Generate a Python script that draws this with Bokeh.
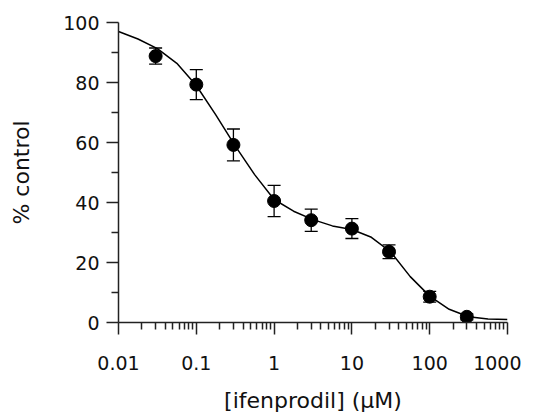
from bokeh.plotting import figure
from bokeh.models import FixedTicker, Whisker, TeeHead, ColumnDataSource
from bokeh.embed import file_html
from bokeh.resources import INLINE

# measured data points
conc = [0.03, 0.1, 0.3, 1, 3, 10, 30, 100, 300]
pct = [88.8, 79.3, 59.2, 40.5, 34.1, 31.3, 23.6, 8.6, 1.9]
err = [2.7, 5.0, 5.3, 5.2, 3.7, 3.3, 2.3, 1.8, 1.0]

# fitted curve
curve_x = [0.01, 0.0178, 0.0316, 0.0562, 0.1, 0.178, 0.316, 0.562, 1.0, 1.78,
           3.16, 5.62, 10.0, 17.8, 31.6, 56.2, 100.0, 178.0, 316.0, 562.0, 1000.0]
curve_y = [97.0, 94.5, 91.3, 86.4, 79.0, 69.2, 58.9, 49.3, 41.0, 37.1,
           34.3, 32.2, 31.0, 28.4, 23.5, 15.3, 8.8, 4.4, 1.9, 1.2, 1.0]

x_ticks = [0.01, 0.1, 1, 10, 100, 1000]
x_tick_labels = ["0.01", "0.1", "1", "10", "100", "1000"]
y_ticks = [0, 20, 40, 60, 80, 100]
y_minor = [10, 30, 50, 70, 90]

FONT = "DejaVu Sans"

p = figure(frame_width=389, frame_height=300, x_axis_type="log",
           x_range=(0.01, 1000), y_range=(0, 100),
           output_backend="svg", toolbar_location=None,
           min_border_left=118, min_border_top=22, min_border_right=14,
           min_border_bottom=5)
p.grid.visible = False
p.outline_line_color = None
p.background_fill_color = "white"

x_minor = [m * d for d in x_ticks[:-1] for m in range(2, 10)]
p.xaxis.ticker = FixedTicker(ticks=x_ticks, minor_ticks=x_minor)
p.xaxis.major_label_overrides = {t: l for t, l in zip(x_ticks, x_tick_labels)}
p.yaxis.ticker = FixedTicker(ticks=y_ticks, minor_ticks=y_minor)

p.axis.axis_line_color = "#222222"
p.axis.axis_line_width = 1.5
p.axis.major_tick_line_color = "#222222"
p.axis.minor_tick_line_color = "#222222"
p.axis.major_tick_line_width = 1.5
p.axis.minor_tick_line_width = 1.5
p.axis.major_tick_in = 0
p.axis.minor_tick_in = 0
p.axis.major_tick_out = 12
p.axis.minor_tick_out = 7
p.axis.major_label_text_font = FONT
p.axis.major_label_text_font_size = "19px"
p.axis.major_label_text_color = "#111111"
p.axis.axis_label_text_font = FONT
p.axis.axis_label_text_font_size = "22px"
p.axis.axis_label_text_font_style = "normal"
p.axis.axis_label_text_color = "#111111"

p.xaxis.axis_label = "[ifenprodil] (μM)"
p.yaxis.axis_label = "% control"
p.xaxis.major_label_standoff = 21
p.xaxis.axis_label_standoff = 15
p.yaxis.major_label_standoff = 7
p.yaxis.axis_label_standoff = 26

p.line(curve_x, curve_y, line_color="black", line_width=1.5)

src = ColumnDataSource(dict(x=conc, y=pct,
                            lo=[v - e for v, e in zip(pct, err)],
                            hi=[v + e for v, e in zip(pct, err)]))
w = Whisker(source=src, base="x", upper="hi", lower="lo", dimension="height",
            line_color="black", line_width=1.3,
            upper_head=TeeHead(size=13, line_color="black", line_width=1.3),
            lower_head=TeeHead(size=13, line_color="black", line_width=1.3))
p.add_layout(w)
p.scatter("x", "y", source=src, size=13, fill_color="black", line_color="black")

open("out.html", "w").write(file_html(p, INLINE))
